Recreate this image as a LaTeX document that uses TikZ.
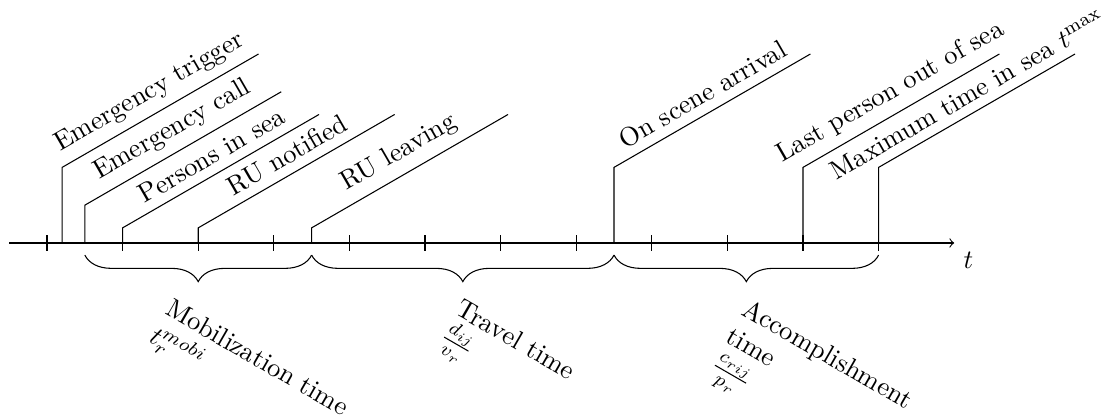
\documentclass[tikz,border=0pt]{standalone}
\usetikzlibrary{decorations.pathreplacing}
\begin{document}
\begin{tikzpicture}[
  evlabel/.style={midway, above, sloped, inner sep=3.33pt},
  brlabel/.style={anchor=north west, rotate=-30, inner sep=0pt, align=left},
  bracedeco/.style={decorate, decoration={brace, mirror, amplitude=10pt}},
  tickline/.style={line width=0.4pt},
]
\useasboundingbox (-0.622,-2.302) rectangle (14.034,3.214);
% axis
\coordinate (axstart) at (-0.5,0);
\coordinate (axend) at (12,0);
\draw[->] (axstart) -- (axend) node[anchor=north west, inner sep=3.33pt] (tlab) {$t$};
% ticks
\foreach \i in {0,...,11} { \draw[tickline] (\i,0.1) -- (\i,-0.1); }
% events
\coordinate (trig) at (0.2,0);
\coordinate (call) at (0.5,0);
\coordinate (pis) at (1,0);
\coordinate (notif) at (2,0);
\coordinate (leav) at (3.5,0);
\coordinate (arr) at (7.5,0);
\coordinate (lastp) at (10,0);
\coordinate (maxt) at (11,0);
\draw (trig) -- ++(0,1) -- ++(30:3) node[evlabel] (ltrig) {Emergency trigger};
\draw (call) -- ++(0,0.5) -- ++(30:3) node[evlabel] (lcall) {Emergency call};
\draw (pis) -- ++(0,0.2) -- ++(30:3) node[evlabel] (lpis) {Persons in sea};
\draw (notif) -- ++(0,0.2) -- ++(30:3) node[evlabel] (lnotif) {RU notified};
\draw (leav) -- ++(0,0.2) -- ++(30:3) node[evlabel] (lleav) {RU leaving};
\draw (arr) -- ++(0,1) -- ++(30:3) node[evlabel] (larr) {On scene arrival};
\draw (lastp) -- ++(0,1) -- ++(30:3) node[evlabel] (llast) {Last person out of sea};
\draw (maxt) -- ++(0,1) -- ++(30:3) node[evlabel] (lmax) {Maximum time in sea $t^{\max}$};
% braces
\coordinate (b1) at (0.5,-0.16);
\coordinate (b2) at (3.5,-0.16);
\coordinate (b3) at (7.5,-0.16);
\coordinate (b4) at (11,-0.16);
\draw[bracedeco] (b1) -- (b2);
\draw[bracedeco] (b2) -- (b3);
\draw[bracedeco] (b3) -- (b4);
% brace labels
\node[brlabel] (mob) at (1.667,-0.714) {Mobilization time\\$t_r^{mobi}$};
\node[brlabel] (trav) at (5.503,-0.714) {Travel time\\$\frac{d_{ij}}{v_r}$};
\node[brlabel] (acc) at (9.30,-0.714) {Accomplishment\\time\\$\frac{c_{rij}}{p_r}$};
\end{tikzpicture}
\end{document}
